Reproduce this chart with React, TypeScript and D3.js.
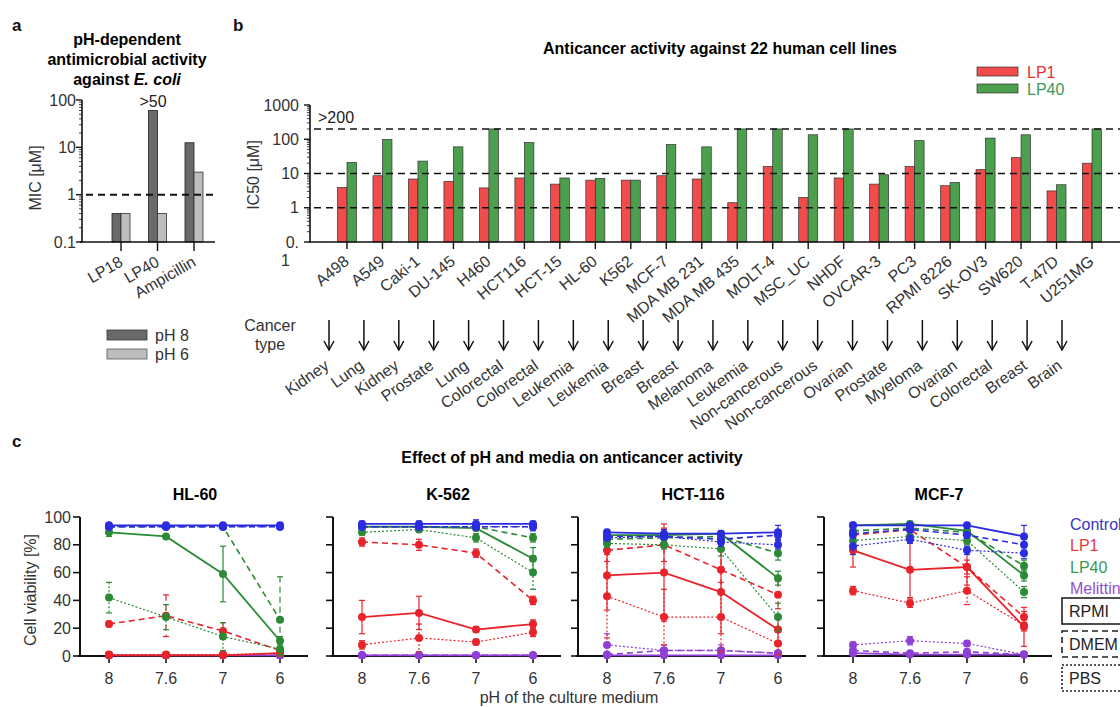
import React, { useEffect, useRef } from 'react';
import * as d3 from 'd3';

const FONT = '"Liberation Sans", Arial, Helvetica, sans-serif';

// ---- panel a: MIC against E. coli
const micDrugs = ['LP18', 'LP40', 'Ampicillin'];
const micPH8 = [0.4, 60, 12.5];
const micPH6 = [0.4, 0.4, 3];

// ---- panel b: IC50 over 22 cell lines
const cellLines = ['A498', 'A549', 'Caki-1', 'DU-145', 'H460', 'HCT116', 'HCT-15', 'HL-60', 'K562', 'MCF-7',
  'MDA MB 231', 'MDA MB 435', 'MOLT-4', 'MSC_UC', 'NHDF', 'OVCAR-3', 'PC3', 'RPMI 8226', 'SK-OV3', 'SW620',
  'T-47D', 'U251MG'];
const ic50LP1 = [3.9, 8.6, 6.9, 5.9, 3.8, 7.4, 4.9, 6.4, 6.4, 8.6, 6.9, 1.4, 16, 2.0, 7.4, 4.9, 16, 4.4, 13, 29, 3.1, 20];
const ic50LP40 = [21, 98, 23, 60, 200, 80, 7.4, 7.2, 6.4, 70, 60, 200, 200, 135, 200, 9.2, 91, 5.5, 108, 135, 4.7, 200];
const cancerTypes = ['Kidney', 'Lung', 'Kidney', 'Prostate', 'Lung', 'Colorectal', 'Colorectal', 'Leukemia',
  'Leukemia', 'Breast', 'Breast', 'Melanoma', 'Leukemia', 'Non-cancerous', 'Non-cancerous', 'Ovarian',
  'Prostate', 'Myeloma', 'Ovarian', 'Colorectal', 'Breast', 'Brain'];
const ic50Guides = [200, 10, 1];

// ---- panel c: viability vs pH, media
const phLevels = ['8', '7.6', '7', '6'];
const treatments = ['Control', 'LP1', 'LP40', 'Melittin'];
const mediaNames = ['RPMI', 'DMEM', 'PBS'];
const viabilityTicks = [0, 20, 40, 60, 80, 100];

const hl60 = [
  { t: 'Melittin', m: 'PBS', v: [0.5, 0.5, 0.5, 0.5], e: [0, 0, 0, 0] },
  { t: 'Melittin', m: 'DMEM', v: [0.5, 0.5, 0.5, 0.5], e: [0, 0, 0, 0] },
  { t: 'Melittin', m: 'RPMI', v: [0.5, 0.5, 0.5, 0.5], e: [0, 0, 0, 0] },
  { t: 'LP1', m: 'PBS', v: [1, 1, 1, 2], e: [0, 0, 1, 1] },
  { t: 'LP1', m: 'DMEM', v: [23, 29, 18, 4], e: [2, 15, 6, 2] },
  { t: 'LP1', m: 'RPMI', v: [0.5, 0.5, 0.5, 2], e: [0, 0, 0, 1] },
  { t: 'LP40', m: 'PBS', v: [42, 28, 14, 5], e: [11, 9, 10, 4] },
  { t: 'LP40', m: 'DMEM', v: [93, 93, 93, 26], e: [1, 1, 1, 31] },
  { t: 'LP40', m: 'RPMI', v: [89, 86, 59, 11], e: [3, 1, 20, 3] },
  { t: 'Control', m: 'PBS', v: [93, 93, 93, 93], e: [1, 1, 1, 1] },
  { t: 'Control', m: 'DMEM', v: [93, 93, 93, 93], e: [1, 1, 1, 1] },
  { t: 'Control', m: 'RPMI', v: [94, 94, 94, 94], e: [1, 1, 1, 1] },
];
const k562 = [
  { t: 'Melittin', m: 'PBS', v: [0.5, 0.5, 0.5, 0.5], e: [0, 0, 0, 0] },
  { t: 'Melittin', m: 'DMEM', v: [0.5, 0.5, 0.5, 0.5], e: [0, 0, 0, 0] },
  { t: 'Melittin', m: 'RPMI', v: [0.5, 0.5, 0.5, 0.5], e: [0, 0, 0, 0] },
  { t: 'LP1', m: 'PBS', v: [8, 13, 10, 17], e: [3, 10, 2, 3] },
  { t: 'LP1', m: 'DMEM', v: [82, 80, 74, 40], e: [3, 4, 3, 3] },
  { t: 'LP1', m: 'RPMI', v: [28, 31, 19, 23], e: [12, 12, 2, 3] },
  { t: 'LP40', m: 'PBS', v: [89, 91, 85, 60], e: [2, 2, 3, 12] },
  { t: 'LP40', m: 'DMEM', v: [93, 93, 93, 85], e: [1, 1, 1, 3] },
  { t: 'LP40', m: 'RPMI', v: [93, 93, 92, 70], e: [1, 1, 2, 8] },
  { t: 'Control', m: 'PBS', v: [93, 93, 93, 93], e: [2, 2, 2, 2] },
  { t: 'Control', m: 'DMEM', v: [93, 93, 93, 93], e: [2, 2, 2, 3] },
  { t: 'Control', m: 'RPMI', v: [95, 95, 95, 95], e: [2, 2, 3, 2] },
];
const hct116 = [
  { t: 'Melittin', m: 'PBS', v: [8, 4, 4, 2], e: [8, 4, 4, 1] },
  { t: 'Melittin', m: 'DMEM', v: [1, 4, 4, 2], e: [1, 2, 2, 1] },
  { t: 'Melittin', m: 'RPMI', v: [0.5, 0.5, 0.5, 0.5], e: [0, 0, 0, 0] },
  { t: 'LP1', m: 'PBS', v: [43, 28, 28, 9], e: [30, 20, 25, 8] },
  { t: 'LP1', m: 'DMEM', v: [76, 80, 62, 44], e: [8, 12, 15, 10] },
  { t: 'LP1', m: 'RPMI', v: [58, 60, 46, 19], e: [25, 35, 30, 10] },
  { t: 'LP40', m: 'PBS', v: [81, 80, 77, 28], e: [3, 3, 5, 10] },
  { t: 'LP40', m: 'DMEM', v: [84, 85, 86, 74], e: [2, 2, 2, 5] },
  { t: 'LP40', m: 'RPMI', v: [87, 87, 88, 56], e: [2, 2, 2, 5] },
  { t: 'Control', m: 'PBS', v: [85, 86, 82, 80], e: [2, 2, 3, 3] },
  { t: 'Control', m: 'DMEM', v: [86, 86, 84, 87], e: [2, 2, 3, 3] },
  { t: 'Control', m: 'RPMI', v: [89, 88, 88, 89], e: [2, 3, 2, 5] },
];
const mcf7 = [
  { t: 'Melittin', m: 'PBS', v: [8, 11, 9, 1], e: [2, 3, 2, 1] },
  { t: 'Melittin', m: 'DMEM', v: [4, 2, 3, 1], e: [1, 1, 1, 1] },
  { t: 'Melittin', m: 'RPMI', v: [2, 1, 1, 1], e: [1, 1, 1, 1] },
  { t: 'LP1', m: 'PBS', v: [47, 38, 47, 22], e: [3, 3, 10, 4] },
  { t: 'LP1', m: 'DMEM', v: [87, 91, 64, 28], e: [3, 2, 5, 4] },
  { t: 'LP1', m: 'RPMI', v: [76, 62, 64, 21], e: [12, 20, 13, 14] },
  { t: 'LP40', m: 'PBS', v: [83, 86, 83, 46], e: [3, 3, 3, 4] },
  { t: 'LP40', m: 'DMEM', v: [90, 92, 89, 65], e: [2, 2, 2, 4] },
  { t: 'LP40', m: 'RPMI', v: [94, 95, 90, 58], e: [2, 2, 2, 4] },
  { t: 'Control', m: 'PBS', v: [79, 84, 76, 74], e: [6, 3, 3, 4] },
  { t: 'Control', m: 'DMEM', v: [88, 91, 87, 80], e: [3, 2, 2, 4] },
  { t: 'Control', m: 'RPMI', v: [94, 94, 94, 86], e: [1, 1, 2, 8] },
];
const viabilityPanels = [
  { name: 'HL-60', series: hl60 },
  { name: 'K-562', series: k562 },
  { name: 'HCT-116', series: hct116 },
  { name: 'MCF-7', series: mcf7 },
];

const treatColor: Record<string, string> = {
  Control: '#2b2be0', LP1: '#e8232a', LP40: '#2a8a35', Melittin: '#8f3fd6',
};
const legendTextColor: Record<string, string> = {
  Control: '#3535c8', LP1: '#e83a3a', LP40: '#3c9a50', Melittin: '#9050d0',
};
const mediaDash: Record<string, string | null> = { RPMI: null, DMEM: '6,4', PBS: '2,2' };

function logAxis(g: any, y: any, x0: number, labels: boolean) {
  const [r0, r1] = y.range();
  g.append('line').attr('x1', x0).attr('x2', x0).attr('y1', r0 + 0.75).attr('y2', r1)
    .attr('stroke', '#111').attr('stroke-width', 1.6);
  y.ticks().forEach((t: number) => {
    const major = Math.abs(Math.log10(t) - Math.round(Math.log10(t))) < 1e-6;
    g.append('line').attr('x1', x0 - (major ? 6 : 3)).attr('x2', x0)
      .attr('y1', y(t)).attr('y2', y(t)).attr('stroke', '#111').attr('stroke-width', major ? 1.4 : 0.8);
  });
}

function drawFigure(node: SVGSVGElement) {
  const svg = d3.select(node);
  svg.selectAll('*').remove();
  svg.attr('font-family', FONT).attr('font-size', 16);
  svg.append('rect').attr('width', 1120).attr('height', 707).attr('fill', '#fff');

  // panel letters
  const letters: [string, number, number][] = [['a', 12, 31], ['b', 233, 31], ['c', 12, 447]];
  letters.forEach(([t, x, y]) => svg.append('text').attr('x', x).attr('y', y)
    .attr('font-weight', 'bold').attr('font-size', 17).attr('fill', '#111').text(t));

  // ================= panel a
  const ga = svg.append('g');
  const ya = d3.scaleLog().domain([0.1, 100]).range([242, 100]);
  const xa = d3.scalePoint<string>().domain(micDrugs).range([121, 194]);
  const bwA = 9;

  ga.append('text').attr('x', 127).attr('y', 45).attr('text-anchor', 'middle').attr('font-weight', 'bold').text('pH-dependent');
  ga.append('text').attr('x', 127).attr('y', 65).attr('text-anchor', 'middle').attr('font-weight', 'bold').text('antimicrobial activity');
  const t3 = ga.append('text').attr('x', 127).attr('y', 85).attr('text-anchor', 'middle').attr('font-weight', 'bold');
  t3.append('tspan').text('against ');
  t3.append('tspan').attr('font-style', 'italic').text('E. coli');

  micDrugs.forEach((d, i) => {
    const cx = xa(d) as number;
    ga.append('rect').attr('x', cx - bwA).attr('y', ya(micPH8[i])).attr('width', bwA)
      .attr('height', ya(0.1) - ya(micPH8[i])).attr('fill', '#696969').attr('stroke', '#222').attr('stroke-width', 0.8);
    ga.append('rect').attr('x', cx).attr('y', ya(micPH6[i])).attr('width', bwA)
      .attr('height', ya(0.1) - ya(micPH6[i])).attr('fill', '#bdbdbd').attr('stroke', '#333').attr('stroke-width', 0.8);
  });
  ga.append('line').attr('x1', 86).attr('x2', 215).attr('y1', ya(1)).attr('y2', ya(1))
    .attr('stroke', '#111').attr('stroke-width', 2).attr('stroke-dasharray', '7,5');
  ga.append('text').attr('x', (xa('LP40') as number) - bwA / 2).attr('y', 107).attr('text-anchor', 'middle').attr('fill', '#222').text('>50');

  logAxis(ga, ya, 82, true);
  [0.1, 1, 10, 100].forEach(t => ga.append('text').attr('x', 76).attr('y', ya(t)).attr('dy', '0.35em')
    .attr('text-anchor', 'end').attr('fill', '#333').text(String(t)));
  ga.append('line').attr('x1', 80).attr('x2', 215).attr('y1', 242).attr('y2', 242).attr('stroke', '#111').attr('stroke-width', 1.6);
  micDrugs.forEach(d => {
    const cx = xa(d) as number;
    ga.append('line').attr('x1', cx).attr('x2', cx).attr('y1', 242).attr('y2', 251).attr('stroke', '#111').attr('stroke-width', 1.4);
    ga.append('text').attr('transform', `translate(${cx + 3},${265}) rotate(-30)`).attr('text-anchor', 'end')
      .attr('fill', '#333').text(d);
  });
  ga.append('text').attr('transform', 'translate(41,178) rotate(-90)').attr('text-anchor', 'middle').attr('fill', '#333').text('MIC [μM]');

  ga.append('rect').attr('x', 107).attr('y', 330).attr('width', 40).attr('height', 10).attr('fill', '#696969').attr('stroke', '#333').attr('stroke-width', 0.8);
  ga.append('rect').attr('x', 107).attr('y', 349).attr('width', 40).attr('height', 10).attr('fill', '#bdbdbd').attr('stroke', '#555').attr('stroke-width', 0.8);
  ga.append('text').attr('x', 155).attr('y', 341).attr('fill', '#333').text('pH 8');
  ga.append('text').attr('x', 155).attr('y', 360).attr('fill', '#333').text('pH 6');

  // ================= panel b
  const gb = svg.append('g');
  const yb = d3.scaleLog().domain([0.1, 1000]).range([242, 105]);
  const xb = d3.scalePoint<string>().domain(cellLines).range([347, 1092]);
  const bwB = 9.5;

  gb.append('text').attr('x', 720).attr('y', 54).attr('text-anchor', 'middle').attr('font-weight', 'bold')
    .text('Anticancer activity against 22 human cell lines');

  cellLines.forEach((c, i) => {
    const cx = xb(c) as number;
    gb.append('rect').attr('x', cx - bwB).attr('y', yb(ic50LP1[i])).attr('width', bwB)
      .attr('height', yb(0.1) - yb(ic50LP1[i])).attr('fill', '#f24b4b').attr('stroke', '#333').attr('stroke-width', 0.7);
    gb.append('rect').attr('x', cx).attr('y', yb(ic50LP40[i])).attr('width', bwB)
      .attr('height', yb(0.1) - yb(ic50LP40[i])).attr('fill', '#4c9f4c').attr('stroke', '#333').attr('stroke-width', 0.7);
  });
  ic50Guides.forEach(v => gb.append('line').attr('x1', 314).attr('x2', 1120).attr('y1', yb(v)).attr('y2', yb(v))
    .attr('stroke', '#111').attr('stroke-width', 1.6).attr('stroke-dasharray', '7,5'));
  gb.append('text').attr('x', 318).attr('y', 123).attr('fill', '#222').text('>200');

  logAxis(gb, yb, 310, true);
  [1000, 100, 10, 1].forEach(t => gb.append('text').attr('x', 299).attr('y', yb(t)).attr('dy', '0.35em')
    .attr('text-anchor', 'end').attr('fill', '#333').text(String(t)));
  const lab01 = gb.append('text').attr('x', 299).attr('y', yb(0.1)).attr('dy', '0.35em').attr('text-anchor', 'end').attr('fill', '#333');
  lab01.append('tspan').text('0.');
  lab01.append('tspan').attr('x', 290).attr('dy', '1.15em').text('1');
  gb.append('line').attr('x1', 309).attr('x2', 1120).attr('y1', 242).attr('y2', 242).attr('stroke', '#111').attr('stroke-width', 1.6);
  cellLines.forEach(c => {
    const cx = xb(c) as number;
    gb.append('line').attr('x1', cx).attr('x2', cx).attr('y1', 242).attr('y2', 249).attr('stroke', '#111').attr('stroke-width', 1.4);
    gb.append('text').attr('transform', `translate(${cx + 3},${263}) rotate(-40)`).attr('text-anchor', 'end')
      .attr('fill', '#333').text(c);
  });
  gb.append('text').attr('transform', 'translate(259,175) rotate(-90)').attr('text-anchor', 'middle').attr('fill', '#333').text('IC50 [μM]');

  gb.append('rect').attr('x', 977).attr('y', 67).attr('width', 41).attr('height', 9).attr('fill', '#f24b4b').attr('stroke', '#333').attr('stroke-width', 0.7);
  gb.append('rect').attr('x', 977).attr('y', 84).attr('width', 41).attr('height', 9).attr('fill', '#4c9f4c').attr('stroke', '#333').attr('stroke-width', 0.7);
  gb.append('text').attr('x', 1027).attr('y', 78).attr('fill', '#e83030').text('LP1');
  gb.append('text').attr('x', 1027).attr('y', 95).attr('fill', '#3a9a5a').text('LP40');

  // cancer type arrows
  const xArrow = d3.scaleLinear().domain([0, cancerTypes.length - 1]).range([329, 1062]);
  gb.append('text').attr('x', 270).attr('y', 331).attr('text-anchor', 'middle').attr('fill', '#333').text('Cancer');
  gb.append('text').attr('x', 270).attr('y', 350).attr('text-anchor', 'middle').attr('fill', '#333').text('type');
  cancerTypes.forEach((ct, i) => {
    const ax = xArrow(i);
    gb.append('line').attr('x1', ax).attr('x2', ax).attr('y1', 320).attr('y2', 350).attr('stroke', '#111').attr('stroke-width', 1.5);
    gb.append('path').attr('d', `M${ax - 5},${341} L${ax},${350} L${ax + 5},${341}`).attr('fill', 'none')
      .attr('stroke', '#111').attr('stroke-width', 1.5);
    gb.append('text').attr('transform', `translate(${ax + 1},${368}) rotate(-35)`).attr('text-anchor', 'end')
      .attr('fill', '#333').text(ct);
  });

  // ================= panel c
  const gc = svg.append('g');
  gc.append('text').attr('x', 572).attr('y', 463).attr('text-anchor', 'middle').attr('font-weight', 'bold')
    .text('Effect of pH and media on anticancer activity');
  const yc = d3.scaleLinear().domain([0, 100]).range([656, 517]);
  const axisX = [80, 333, 578, 824];

  viabilityPanels.forEach((p, pi) => {
    const x0 = axisX[pi];
    const xc = d3.scalePoint<string>().domain(phLevels).range([x0 + 29, x0 + 200]);
    const g = gc.append('g');
    g.append('text').attr('x', x0 + 115).attr('y', 500).attr('text-anchor', 'middle').attr('font-weight', 'bold').text(p.name);

    // axes
    g.append('line').attr('x1', x0).attr('x2', x0).attr('y1', yc(100)).attr('y2', yc(0) + 1)
      .attr('stroke', '#111').attr('stroke-width', 2);
    g.append('line').attr('x1', x0 - 2).attr('x2', x0 + 228).attr('y1', yc(0)).attr('y2', yc(0))
      .attr('stroke', '#111').attr('stroke-width', 2);
    viabilityTicks.forEach(t => {
      g.append('line').attr('x1', x0 - 7).attr('x2', x0).attr('y1', yc(t)).attr('y2', yc(t)).attr('stroke', '#111').attr('stroke-width', 1.6);
      if (pi === 0) g.append('text').attr('x', x0 - 9).attr('y', yc(t)).attr('dy', '0.35em').attr('text-anchor', 'end').attr('fill', '#333').text(String(t));
    });
    phLevels.forEach(ph => {
      const cx = xc(ph) as number;
      g.append('line').attr('x1', cx).attr('x2', cx).attr('y1', yc(0)).attr('y2', yc(0) + 7).attr('stroke', '#111').attr('stroke-width', 1.6);
      g.append('text').attr('x', cx).attr('y', 684).attr('text-anchor', 'middle').attr('fill', '#333').text(ph);
    });

    const line = d3.line<number>().x((_, i) => xc(phLevels[i]) as number).y(v => yc(v));
    p.series.forEach(s => {
      const col = treatColor[s.t];
      const dash = mediaDash[s.m];
      const lw = s.m === 'PBS' ? 1.2 : s.m === 'DMEM' ? 1.6 : 1.8;
      s.v.forEach((v, i) => {
        if (!s.e[i]) return;
        const cx = xc(phLevels[i]) as number;
        const y1 = yc(Math.min(100, v + s.e[i]));
        const y2 = yc(Math.max(0, v - s.e[i]));
        g.append('line').attr('x1', cx).attr('x2', cx).attr('y1', y1).attr('y2', y2)
          .attr('stroke', col).attr('stroke-width', 1.2).attr('stroke-dasharray', dash);
        g.append('line').attr('x1', cx - 3).attr('x2', cx + 3).attr('y1', y1).attr('y2', y1).attr('stroke', col).attr('stroke-width', 1.2);
        g.append('line').attr('x1', cx - 3).attr('x2', cx + 3).attr('y1', y2).attr('y2', y2).attr('stroke', col).attr('stroke-width', 1.2);
      });
      g.append('path').datum(s.v).attr('d', line).attr('fill', 'none').attr('stroke', col)
        .attr('stroke-width', lw).attr('stroke-dasharray', dash);
      g.selectAll(null).data(s.v).enter().append('circle')
        .attr('cx', (_, i) => xc(phLevels[i]) as number).attr('cy', v => yc(v)).attr('r', 4).attr('fill', col);
    });
  });

  gc.append('text').attr('transform', 'translate(36,590) rotate(-90)').attr('text-anchor', 'middle').attr('fill', '#333').text('Cell viability [%]');
  gc.append('text').attr('x', 569).attr('y', 703).attr('text-anchor', 'middle').attr('fill', '#333').text('pH of the culture medium');

  // legend c
  treatments.forEach((t, i) => gc.append('text').attr('x', 1070).attr('y', 530 + i * 21.3)
    .attr('fill', legendTextColor[t]).text(t));
  const boxY = [598, 631, 665];
  mediaNames.forEach((m, i) => {
    gc.append('rect').attr('x', 1062).attr('y', boxY[i]).attr('width', 80).attr('height', 26)
      .attr('fill', 'none').attr('stroke', '#222').attr('stroke-width', 1.6)
      .attr('stroke-dasharray', m === 'DMEM' ? '6,4' : m === 'PBS' ? '2,2' : null);
    gc.append('text').attr('x', 1069).attr('y', boxY[i] + 19).attr('fill', '#222').text(m);
  });
}

export default function App() {
  const ref = useRef<SVGSVGElement>(null);
  useEffect(() => {
    if (ref.current) drawFigure(ref.current);
  }, []);
  return (
    <svg ref={ref} width={1120} height={707}
      style={{ position: 'absolute', left: 0, top: 0, background: '#fff' }} />
  );
}
